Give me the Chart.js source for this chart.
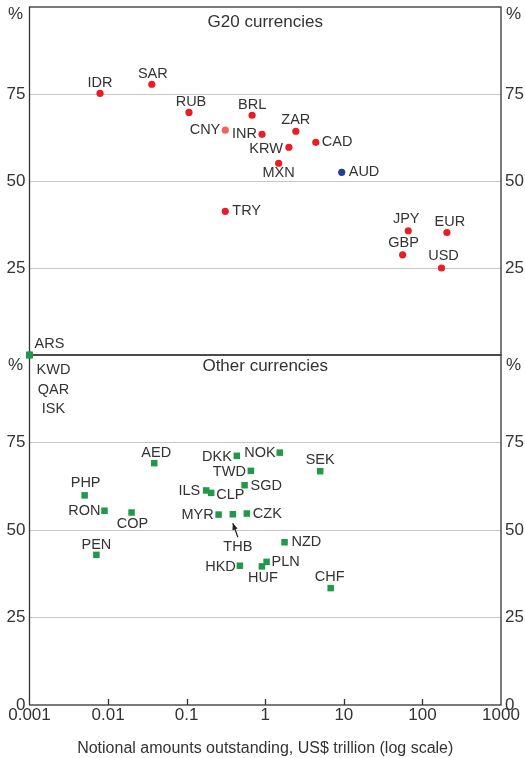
<!DOCTYPE html>
<html>
<head>
<meta charset="utf-8">
<script src="https://cdn.jsdelivr.net/npm/chart.js@4.4.0/dist/chart.umd.min.js"></script>
<style>
  html, body { margin: 0; padding: 0; background: #fff; }
  #wrap { position: relative; width: 525px; height: 758px; overflow: hidden; }
  canvas { position: absolute; left: 0; }
  #topChart { top: -8px; }
  #bottomChart { top: 340px; }
</style>
</head>
<body>
<div id="wrap">
  <canvas id="topChart" width="525" height="378"></canvas>
  <canvas id="bottomChart" width="525" height="418"></canvas>
</div>
<script>
// G20 currencies: notional amounts outstanding (US$ trillion) and share (%)
const g20Codes  = ['IDR', 'SAR', 'RUB', 'BRL', 'CNY', 'INR', 'ZAR', 'CAD', 'KRW', 'MXN', 'AUD', 'TRY', 'JPY', 'EUR', 'GBP', 'USD', 'ARS'];
const g20Amount = [0.0079, 0.036, 0.107, 0.68, 0.31, 0.91, 2.45, 4.4, 2.0, 1.48, 9.4, 0.31, 66, 205, 56, 175, 0.001];
const g20Share  = [75.2, 77.8, 69.7, 68.9, 64.6, 63.4, 64.3, 61.1, 59.7, 55.1, 52.5, 41.3, 35.7, 35.2, 28.8, 25.0, 0];

// Other currencies
const otherCodes  = ['KWD', 'QAR', 'ISK', 'AED', 'DKK', 'NOK', 'SEK', 'TWD', 'PHP', 'SGD', 'ILS', 'CLP', 'RON', 'COP', 'MYR', 'THB', 'CZK', 'NZD', 'PEN', 'HKD', 'PLN', 'HUF', 'CHF'];
const otherAmount = [0.001, 0.001, 0.001, 0.0387, 0.435, 1.53, 5.0, 0.656, 0.00503, 0.546, 0.177, 0.205, 0.0090, 0.0199, 0.255, 0.387, 0.583, 1.76, 0.0071, 0.475, 1.04, 0.906, 6.8];
const otherShare  = [100, 100, 100, 69.1, 71.2, 72.1, 66.8, 66.9, 59.9, 62.8, 61.3, 60.6, 55.5, 55.0, 54.4, 54.5, 54.7, 46.5, 42.9, 39.8, 40.9, 39.6, 33.4];

const xTicks = [0.001, 0.01, 0.1, 1, 10, 100, 1000];
const topYTicks = [25, 50, 75];
const bottomYTicks = [0, 25, 50, 75];

// label placement: [align, dx, dy] relative to the point
const labelPlace = {
  IDR: ['center', 0, -10], SAR: ['center', 1, -10], RUB: ['center', 2, -10], BRL: ['center', 0, -10],
  CNY: ['right', -5, 0], INR: ['right', -5, 0], ZAR: ['center', 0, -11], CAD: ['left', 6, 0],
  KRW: ['right', -6, 2], MXN: ['center', 0, 10], AUD: ['left', 7, 0], TRY: ['left', 7, 0],
  JPY: ['center', -2, -12], EUR: ['center', 3, -11], GBP: ['center', 1, -12], USD: ['center', 2, -12],
  ARS: ['left', 5, -11],
  KWD: ['center', 24, 15], QAR: ['center', 24, 35], ISK: ['center', 24, 54],
  AED: ['center', 2, -10], DKK: ['right', -5, 1], NOK: ['right', -4, 0], SEK: ['center', 0, -11],
  TWD: ['right', -5, 1], PHP: ['center', 1, -12], SGD: ['left', 6, 1], ILS: ['right', -6, 1],
  CLP: ['left', 5, 2], RON: ['right', -4, 0], COP: ['center', 1, 11], MYR: ['right', -5, 0],
  THB: ['center', 5, 33], CZK: ['left', 6, 0], NZD: ['left', 7, 0], PEN: ['center', 0, -10],
  HKD: ['right', -4, 1], PLN: ['left', 5, 0], HUF: ['center', 1, 12], CHF: ['center', -1, -11]
};

const FONT = '"Liberation Sans", Arial, sans-serif';
const TEXT = '#333';
const FRAME = '#333';
const GRID = '#c8c8c8';
const RED = '#ec1c24';
const CORAL = '#f26457';
const BLUE = '#233f9a';
const GREEN = '#1f9a4a';

// frame, units, panel title, point labels, inner ticks
const decor = {
  id: 'decor',
  beforeDatasetsDraw(chart, args, opts) {
    const ctx = chart.ctx, a = chart.chartArea;
    ctx.save();
    ctx.strokeStyle = FRAME;
    ctx.lineWidth = 1.3;
    ctx.strokeRect(a.left, a.top, a.right - a.left, a.bottom - a.top);
    if (opts.innerTicks) {
      const xs = chart.scales.x;
      xTicks.slice(1, -1).forEach(v => {
        const x = Math.round(xs.getPixelForValue(v)) + 0.5;
        ctx.beginPath();
        ctx.moveTo(x, a.bottom);
        ctx.lineTo(x, a.bottom - 6);
        ctx.stroke();
      });
    }
    ctx.restore();
  },
  afterDatasetsDraw(chart, args, opts) {
    const ctx = chart.ctx, a = chart.chartArea;
    ctx.save();
    ctx.fillStyle = TEXT;
    ctx.textBaseline = 'middle';
    ctx.font = '17px ' + FONT;
    ctx.textAlign = 'right';
    ctx.fillText('%', a.left - 6.5, a.top + opts.unitOffset);
    ctx.textAlign = 'left';
    ctx.fillText('%', a.right + 5, a.top + opts.unitOffset);
    ctx.textAlign = 'center';
    ctx.fillText(opts.title, (a.left + a.right) / 2, a.top + opts.titleOffset);

    ctx.font = '14.5px ' + FONT;
    const meta = chart.getDatasetMeta(0);
    opts.codes.forEach((code, i) => {
      const pt = meta.data[i];
      const p = labelPlace[code];
      ctx.textAlign = p[0];
      ctx.fillText(code, pt.x + p[1], pt.y + p[2]);
      if (code === 'THB') {
        // arrow from label up to the point
        const tipX = pt.x, tipY = pt.y + 9;
        const tailX = pt.x + 5, tailY = pt.y + 23;
        const ang = Math.atan2(tipY - tailY, tipX - tailX);
        ctx.strokeStyle = '#222';
        ctx.lineWidth = 1.2;
        ctx.beginPath();
        ctx.moveTo(tailX, tailY);
        ctx.lineTo(tipX, tipY);
        ctx.stroke();
        ctx.fillStyle = '#222';
        ctx.beginPath();
        ctx.moveTo(tipX, tipY);
        ctx.lineTo(tipX - 7 * Math.cos(ang - 0.4), tipY - 7 * Math.sin(ang - 0.4));
        ctx.lineTo(tipX - 7 * Math.cos(ang + 0.4), tipY - 7 * Math.sin(ang + 0.4));
        ctx.closePath();
        ctx.fill();
        ctx.fillStyle = TEXT;
      }
    });
    ctx.restore();
  }
};

function pointColour(c) {
  const code = c.raw && c.raw.code;
  if (code === 'AUD') return BLUE;
  if (code === 'CNY') return CORAL;
  return RED;
}

function makeChart(id, codes, amounts, shares, yTicks, panel) {
  const yCommon = {
    min: 0,
    max: 100,
    afterBuildTicks: s => { s.ticks = yTicks.map(v => ({ value: v })); },
    border: { display: false },
    ticks: { padding: 4, color: TEXT, font: { family: FONT, size: 17 } }
  };
  return new Chart(document.getElementById(id), {
    type: 'scatter',
    data: {
      datasets: [{
        data: amounts.map((v, i) => ({ x: v, y: shares[i], code: codes[i] })),
        pointStyle: panel.pointStyle,
        pointRadius: panel.pointRadius,
        pointBorderWidth: 0,
        pointBackgroundColor: panel.colour,
        pointBorderColor: panel.colour,
        clip: false
      }]
    },
    options: {
      responsive: false,
      animation: false,
      events: [],
      layout: { padding: { top: panel.padTop, bottom: panel.padBottom, left: 0, right: 0 } },
      plugins: {
        legend: { display: false },
        tooltip: { enabled: false },
        decor: {
          codes: codes,
          title: panel.title,
          titleOffset: panel.titleOffset,
          unitOffset: panel.unitOffset,
          innerTicks: panel.showX
        }
      },
      scales: {
        x: {
          type: 'logarithmic',
          min: 0.001,
          max: 1000,
          display: panel.showX,
          afterBuildTicks: s => { s.ticks = xTicks.map(v => ({ value: v })); },
          afterFit: s => { s.height = panel.showX ? 53 : 0; },
          grid: { display: false, drawTicks: false },
          border: { display: false },
          ticks: {
            padding: 0,
            maxRotation: 0,
            autoSkip: false,
            color: TEXT,
            font: { family: FONT, size: 17 },
            callback: v => String(v)
          },
          title: {
            display: true,
            text: 'Notional amounts outstanding, US$ trillion (log scale)',
            color: TEXT,
            font: { family: FONT, size: 16 },
            padding: { top: 0, bottom: 0 }
          }
        },
        y: Object.assign({}, yCommon, {
          position: 'left',
          afterFit: s => { s.width = 29.5; },
          grid: {
            drawTicks: false,
            color: c => (c.tick && c.tick.value === 0) ? 'rgba(0,0,0,0)' : GRID,
            lineWidth: 1
          }
        }),
        y2: Object.assign({}, yCommon, {
          position: 'right',
          afterFit: s => { s.width = 24; },
          grid: { display: false, drawTicks: false }
        })
      }
    },
    plugins: [decor]
  });
}

makeChart('topChart', g20Codes, g20Amount, g20Share, topYTicks, {
  title: 'G20 currencies', titleOffset: 15, unitOffset: 7,
  padTop: 15, padBottom: 15, showX: false,
  pointStyle: 'circle', pointRadius: 3.6, colour: pointColour
});

makeChart('bottomChart', otherCodes, otherAmount, otherShare, bottomYTicks, {
  title: 'Other currencies', titleOffset: 11, unitOffset: 10,
  padTop: 15, padBottom: 0, showX: true,
  pointStyle: 'rect', pointRadius: 4.6, colour: GREEN
});
</script>
</body>
</html>
